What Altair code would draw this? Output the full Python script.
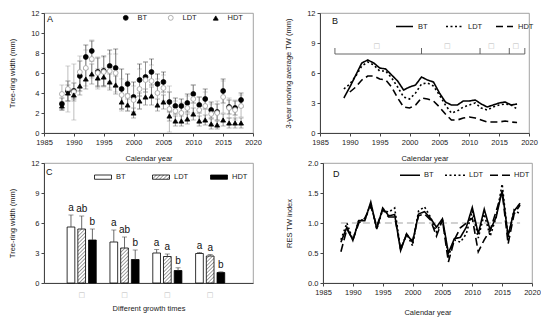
import altair as alt
import pandas as pd
import jinja2

FONT = "Liberation Sans"
order = ["BT", "LDT", "HDT"]

# ---------------- Panel A data ----------------
years = list(range(1988, 2019))
bt = [2.9, 4.2, 4.2, 5.7, 7.6, 8.2, 6.1, 6.2, 6.7, 6.5, 4.4, 4.9, 3.6, 5.3, 5.6, 6.1,
      4.9, 5.1, 3.1, 2.7, 2.7, 3.0, 3.9, 2.8, 3.4, 2.3, 2.1, 4.2, 2.6, 2.5, 3.3]
bt_err = [0.6, 1.0, 0.8, 1.5, 1.2, 1.0, 1.4, 1.5, 1.6, 1.9, 2.0, 1.0, 1.5, 1.6, 1.5, 1.3,
          1.0, 1.0, 1.0, 0.8, 0.7, 0.9, 0.9, 0.8, 1.0, 0.8, 0.8, 1.2, 0.7, 0.7, 0.7]
ldt = [3.9, 4.4, 4.1, 6.1, 6.5, 7.4, 6.0, 6.1, 6.2, 6.0, 3.8, 3.7, 3.3, 4.4, 5.3, 5.2,
       4.0, 4.5, 2.4, 2.2, 2.0, 2.5, 3.4, 2.3, 2.7, 1.9, 2.0, 3.6, 2.5, 2.3, 2.7]
ldt_err = [0.9, 2.3, 2.8, 1.6, 1.8, 1.9, 1.6, 1.5, 1.7, 1.9, 1.6, 1.5, 1.4, 2.0, 1.8, 1.6,
           1.4, 1.3, 2.3, 1.0, 1.0, 1.2, 1.4, 1.3, 1.4, 1.0, 1.2, 1.6, 1.0, 1.0, 1.1]
hdt = [2.7, 4.0, 3.8, 4.7, 5.4, 5.9, 5.5, 5.6, 5.1, 4.8, 3.1, 2.8, 2.0, 3.2, 3.6, 3.7,
       2.8, 3.1, 1.7, 1.2, 1.2, 1.4, 1.9, 1.2, 1.3, 0.9, 0.8, 1.3, 1.0, 1.0, 1.0]
hdt_err = [0.4, 0.8, 0.6, 0.9, 1.0, 1.0, 0.9, 0.9, 0.8, 0.9, 0.7, 0.6, 0.5, 0.8, 0.8, 0.9,
           0.6, 0.7, 0.5, 0.5, 0.5, 0.5, 0.6, 0.5, 0.5, 0.5, 0.4, 0.6, 0.5, 0.5, 0.5]

# ---------------- Panel B data (3-year moving average) ----------------
b_years = list(range(1989, 2019))
b_bt = [3.5, 4.6, 5.8, 7.0, 7.3, 7.0, 6.5, 6.4, 5.8, 5.2, 4.3, 4.6, 4.8, 5.6, 5.3,
        5.1, 4.0, 3.1, 2.8, 2.8, 3.2, 3.2, 3.3, 2.9, 2.6, 2.8, 3.0, 3.1, 2.8, 2.9]
b_ldt = [4.4, 4.9, 5.7, 6.7, 7.1, 6.8, 6.2, 6.2, 5.5, 4.6, 3.6, 3.4, 4.0, 4.9, 5.0,
         4.7, 3.8, 2.8, 2.0, 2.2, 2.6, 2.8, 3.0, 2.5, 2.3, 2.6, 2.8, 2.9, 2.8, 2.4]
b_hdt_years = list(range(1990, 2019))
b_hdt = [4.1, 4.6, 5.3, 5.7, 5.7, 5.4, 5.3, 4.6, 3.5, 2.6, 2.5, 2.8, 3.5, 3.4, 3.2,
         2.6, 1.9, 1.3, 1.3, 1.5, 1.6, 1.5, 1.3, 1.1, 1.1, 1.1, 1.2, 1.1, 1.05]
bracket_bounds = [1987.5, 2002.0, 2011.8, 2016.7, 2019.3]
bracket_level = [7.9, 8.5]
period_mid = [1994.5, 2006.3, 2013.7, 2017.8]
period_label = ["\u25a1", "\u25a1", "\u25a1", "\u25a1"]
period_level = 8.7

# ---------------- Panel C data ----------------
groups = ["g1", "g2", "g3", "g4"]
group_label = "\u25a1"
c_bt = [5.6, 4.1, 3.0, 2.95]
c_bt_hi = [6.8, 5.3, 3.35, 3.05]
c_ldt = [5.4, 3.5, 2.65, 2.7]
c_ldt_hi = [6.7, 4.6, 2.9, 2.85]
c_hdt = [4.3, 2.35, 1.25, 1.05]
c_hdt_hi = [5.4, 3.3, 1.52, 1.12]
c_bt_letter = ["a", "a", "a", "a"]
c_ldt_letter = ["ab", "ab", "a", "a"]
c_hdt_letter = ["b", "b", "b", "b"]

# ---------------- Panel D data (RES index) ----------------
d_bt = [0.68, 0.93, 0.71, 1.04, 1.04, 1.35, 0.90, 1.25, 1.12, 1.14, 0.54, 0.82, 0.68, 1.15,
        1.19, 1.08, 0.93, 1.07, 0.50, 0.74, 0.76, 0.93, 1.26, 0.82, 1.23, 0.88, 1.10, 1.54,
        0.79, 1.20, 1.33]
d_ldt = [0.72, 1.00, 0.72, 1.05, 1.05, 1.33, 0.90, 1.22, 1.18, 1.25, 0.55, 0.82, 0.62, 1.20,
         1.27, 1.10, 0.85, 1.05, 0.45, 0.72, 0.68, 0.82, 1.20, 0.75, 1.15, 0.78, 1.10, 1.65,
         0.75, 1.22, 1.15]
d_hdt = [0.52, 0.90, 0.72, 1.00, 1.08, 1.28, 0.95, 1.22, 1.10, 1.10, 0.58, 0.80, 0.70, 1.12,
         1.15, 1.05, 0.78, 1.05, 0.35, 0.72, 0.92, 1.00, 1.08, 0.52, 0.72, 0.88, 1.20, 1.52,
         0.65, 1.15, 1.30]
d_ref = 1.0

W, H = 209, 120
year_ticks = [1985, 1990, 1995, 2000, 2005, 2010, 2015, 2020]

INDEP = dict(color="independent", fill="independent", stroke="independent",
             shape="independent", strokeDash="independent")


def xaxis(title_pad=9):
    return alt.Axis(values=year_ticks, format="d", title="Calendar year", labelFlush=False,
                    titlePadding=title_pad, labelOverlap=False, labelSeparation=0)


def yaxis(vals, title, fmt=None):
    kw = dict(values=vals, title=title, titlePadding=14, labelOverlap=False, labelSeparation=0)
    if fmt:
        kw["format"] = fmt
    return alt.Axis(**kw)


def xscale():
    return alt.Scale(domain=[1985, 2020], nice=False, zero=False)


def letter(ch, x, y):
    return alt.Chart(pd.DataFrame({"t": [ch]})).mark_text(
        fontSize=9, font=FONT, align="left", baseline="middle", color="#111"
    ).encode(text="t:N", x=alt.value(x), y=alt.value(y))


# ---------------- Panel A ----------------
rows = []
for s, v, e in [("BT", bt, bt_err), ("LDT", ldt, ldt_err), ("HDT", hdt, hdt_err)]:
    for yr, val, er in zip(years, v, e):
        rows.append({"year": yr, "series": s, "value": val, "lo": max(val - er, 0), "hi": val + er})
dfA = pd.DataFrame(rows)

legA = alt.Legend(title=None, orient="none", legendX=78, legendY=1, direction="horizontal",
                  columns=3, gridAlign="all", columnPadding=13, labelOffset=8, padding=0,
                  labelFontSize=7.5, symbolSize=24, symbolStrokeWidth=0.8)
yA = yaxis([0, 2, 4, 6, 8, 10, 12], "Tree-ring width (mm)")
xA = xaxis()
errA = alt.Chart(dfA).mark_errorbar(ticks=True, size=5, thickness=0.7).encode(
    x=alt.X("year:Q", scale=xscale(), axis=xA),
    y=alt.Y("lo:Q", scale=alt.Scale(domain=[0, 12]), axis=yA),
    y2="hi:Q",
    color=alt.Color("series:N", scale=alt.Scale(domain=order, range=["#333333", "#a0a0a0", "#666666"]),
                    legend=None),
)
ptsA = alt.Chart(dfA).mark_point(filled=True, size=24, strokeWidth=0.8, opacity=1).encode(
    x=alt.X("year:Q", scale=xscale(), axis=xA),
    y=alt.Y("value:Q", axis=yA),
    shape=alt.Shape("series:N", scale=alt.Scale(domain=order, range=["circle", "circle", "triangle-up"]),
                    legend=legA),
    fill=alt.Fill("series:N", scale=alt.Scale(domain=order, range=["black", "white", "black"]), legend=legA),
    stroke=alt.Stroke("series:N", scale=alt.Scale(domain=order, range=["black", "#a0a0a0", "black"]),
                      legend=legA),
)
panelA = alt.layer(errA, ptsA, letter("A", 3, 6)).resolve_scale(color="independent").properties(
    width=W, height=H)

# ---------------- Panel B ----------------
rowsB = []
for s, yrs, v in [("BT", b_years, b_bt), ("LDT", b_years, b_ldt), ("HDT", b_hdt_years, b_hdt)]:
    for yr, val in zip(yrs, v):
        rowsB.append({"year": yr, "series": s, "value": val})
dfB = pd.DataFrame(rowsB)

legB = alt.Legend(title=None, orient="none", legendX=75, legendY=4, direction="horizontal",
                  columns=3, gridAlign="all", columnPadding=8, labelOffset=4, padding=0,
                  labelFontSize=7.5, symbolType="stroke", symbolSize=289, symbolStrokeWidth=1.6,
                  symbolStrokeColor="black")
yB = yaxis([0, 3, 6, 9, 12], "3-year moving average TW (mm)")
xB = xaxis()
linesB = alt.Chart(dfB).mark_line(color="black", strokeWidth=1.6).encode(
    x=alt.X("year:Q", scale=xscale(), axis=xB),
    y=alt.Y("value:Q", scale=alt.Scale(domain=[0, 12]), axis=yB),
    strokeDash=alt.StrokeDash("series:N", scale=alt.Scale(domain=order, range=[[1, 0], [2, 2.5], [7, 4]]),
                              legend=legB),
    detail="series:N",
)
brk = pd.DataFrame({"x": [bracket_bounds[0]], "x2": [bracket_bounds[-1]], "y": [bracket_level[0]]})
brkLine = alt.Chart(brk).mark_rule(color="#555", strokeWidth=0.9).encode(
    x=alt.X("x:Q", scale=xscale(), axis=xB), x2="x2:Q", y=alt.Y("y:Q", axis=yB))
brkT = pd.DataFrame({"x": bracket_bounds, "y": [bracket_level[0]] * len(bracket_bounds),
                     "y2": [bracket_level[1]] * len(bracket_bounds)})
brkTicks = alt.Chart(brkT).mark_rule(color="#555", strokeWidth=0.9).encode(
    x=alt.X("x:Q", scale=xscale(), axis=xB), y=alt.Y("y:Q", axis=yB), y2="y2:Q")
perDf = pd.DataFrame({"x": period_mid, "y": [period_level] * len(period_mid), "t": period_label})
perTxt = alt.Chart(perDf).mark_text(fontSize=7, color="#bbbbbb", font="DejaVu Sans").encode(
    x=alt.X("x:Q", scale=xscale(), axis=xB), y=alt.Y("y:Q", axis=yB), text="t:N")
panelB = alt.layer(linesB, brkLine, brkTicks, perTxt, letter("B", 12, 8)).properties(width=W, height=H)

# ---------------- Panel C ----------------
rowsC = []
for s, v, hi, lt in [("BT", c_bt, c_bt_hi, c_bt_letter), ("LDT", c_ldt, c_ldt_hi, c_ldt_letter),
                     ("HDT", c_hdt, c_hdt_hi, c_hdt_letter)]:
    for g, val, h, l in zip(groups, v, hi, lt):
        rowsC.append({"group": g, "series": s, "value": val, "hi": h, "letter": l})
dfC = pd.DataFrame(rowsC)

xC = alt.X("group:N", sort=groups,
           scale=alt.Scale(domain=groups, paddingInner=0.32, paddingOuter=0.6, align=0.45),
           axis=alt.Axis(labelExpr="'" + group_label + "'", title="Different growth times", ticks=False,
                         labelAngle=0, labelPadding=7, titlePadding=7, labelColor="#bbbbbb",
                         labelFont="DejaVu Sans", labelFontSize=7, labelOverlap=False))
xoffC = alt.XOffset("series:N", sort=order, scale=alt.Scale(domain=order, paddingInner=0.28))
yC = yaxis([0, 3, 6, 9, 12], "Tree-ring width (mm)")
legC = alt.Legend(title=None, orient="none", legendX=50, legendY=5, direction="horizontal",
                  columns=3, gridAlign="all", columnPadding=18, labelOffset=4, padding=0,
                  labelFontSize=7.5, symbolType="M-1,-0.25H1V0.25H-1Z", symbolSize=289,
                  symbolStrokeColor="black", symbolStrokeWidth=0.8)
barsC = alt.Chart(dfC).mark_bar(stroke="black", strokeWidth=0.8).encode(
    x=xC, xOffset=xoffC,
    y=alt.Y("value:Q", scale=alt.Scale(domain=[0, 12]), axis=yC),
    fill=alt.Fill("series:N", scale=alt.Scale(domain=order, range=["white", "url(#hatch)", "black"]),
                  legend=legC),
)
errC = alt.Chart(dfC).mark_rule(color="#444", strokeWidth=0.8).encode(
    x=xC, xOffset=xoffC, y=alt.Y("value:Q", axis=yC), y2="hi:Q")
capC = alt.Chart(dfC).mark_tick(color="#444", size=5, thickness=0.8).encode(
    x=xC, xOffset=xoffC, y=alt.Y("hi:Q", axis=yC))
txtC = alt.Chart(dfC).mark_text(fontSize=10, baseline="bottom", dy=-2, color="#111", font=FONT).encode(
    x=xC, xOffset=xoffC, y=alt.Y("hi:Q", axis=yC), text="letter:N")
panelC = alt.layer(barsC, errC, capC, txtC, letter("C", 2, 9)).properties(width=W, height=H)

# ---------------- Panel D ----------------
rowsD = []
for s, v in [("BT", d_bt), ("LDT", d_ldt), ("HDT", d_hdt)]:
    for yr, val in zip(years, v):
        rowsD.append({"year": yr, "series": s, "value": val})
dfD = pd.DataFrame(rowsD)
legD = alt.Legend(title=None, orient="none", legendX=76, legendY=1, direction="horizontal",
                  columns=3, gridAlign="all", columnPadding=1, labelOffset=3, padding=0,
                  labelFontSize=7.5, symbolType="stroke", symbolSize=400, symbolStrokeWidth=1.6,
                  symbolStrokeColor="black")
yD = yaxis([0, 0.5, 1, 1.5, 2], "RES TW index", ".1f")
xD = xaxis(13)
refD = alt.Chart(pd.DataFrame({"x": [years[0]], "x2": [years[-1]], "y": [d_ref]})).mark_rule(
    color="#999", strokeWidth=0.9, strokeDash=[7, 4]).encode(
    x=alt.X("x:Q", scale=xscale(), axis=xD), x2="x2:Q", y=alt.Y("y:Q", axis=yD))
linesD = alt.Chart(dfD).mark_line(color="black", strokeWidth=1.6).encode(
    x=alt.X("year:Q", scale=xscale(), axis=xD),
    y=alt.Y("value:Q", scale=alt.Scale(domain=[0, 2]), axis=yD),
    strokeDash=alt.StrokeDash("series:N", scale=alt.Scale(domain=order, range=[[1, 0], [2, 2.5], [8, 4]]),
                              legend=legD),
    detail="series:N",
)
panelD = alt.layer(refD, linesD, letter("D", 10, 11)).properties(width=W, height=H)

top = alt.hconcat(panelA, panelB, spacing=22).resolve_scale(**INDEP).resolve_legend(**INDEP)
bottom = alt.hconcat(panelC, panelD, spacing=31).resolve_scale(**INDEP).resolve_legend(**INDEP)

chart = alt.vconcat(top, bottom, spacing=-14).resolve_scale(**INDEP).resolve_legend(**INDEP).properties(
    padding=0).configure(font=FONT).configure_view(
    stroke="#8c8c8c", strokeWidth=0.8
).configure_axis(
    labelFontSize=7.5, titleFontSize=7.5, titleFontWeight="normal", labelColor="#222",
    titleColor="#222", domainColor="#444", tickColor="#444", tickSize=3, grid=False,
    labelPadding=2, labelFont=FONT, titleFont=FONT, labelOverlap=False, labelSeparation=0
).configure_legend(labelFont=FONT, labelColor="#222")

TEMPLATE = jinja2.Template("""<!DOCTYPE html>
<html>
<head>
<style>
  #{{ output_div }}.vega-embed { width: 100%; display: flex; }
  #{{ output_div }}.vega-embed details, #{{ output_div }}.vega-embed details summary { position: relative; }
</style>
<script type="text/javascript" src="{{ base_url }}/vega@{{ vega_version }}"></script>
<script type="text/javascript" src="{{ base_url }}/vega-lite@{{ vegalite_version }}"></script>
<script type="text/javascript" src="{{ base_url }}/vega-embed@{{ vegaembed_version }}"></script>
</head>
<body>
<svg width="0" height="0" style="position:absolute">
  <defs>
    <pattern id="hatch" patternUnits="userSpaceOnUse" width="2.6" height="2.6" patternTransform="rotate(45)">
      <rect width="2.6" height="2.6" fill="white"></rect>
      <line x1="0" y1="0" x2="0" y2="2.6" stroke="#555" stroke-width="1.1"></line>
    </pattern>
  </defs>
</svg>
<div id="{{ output_div }}"></div>
<script type="text/javascript">
  (function(vegaEmbed) {
    var spec = {{ spec }};
    var embedOpt = {{ embed_options }};
    function showError(el, error){
        el.innerHTML = ('<div style="color:red;"><p>JavaScript Error: ' + error.message + '</p></div>');
        throw error;
    }
    const el = document.getElementById('{{ output_div }}');
    vegaEmbed("#{{ output_div }}", spec, embedOpt).catch(error => showError(el, error));
  })(vegaEmbed);
</script>
</body>
</html>
""")

chart.save("out.html", embed_options={"renderer": "svg", "actions": False}, template=TEMPLATE)
